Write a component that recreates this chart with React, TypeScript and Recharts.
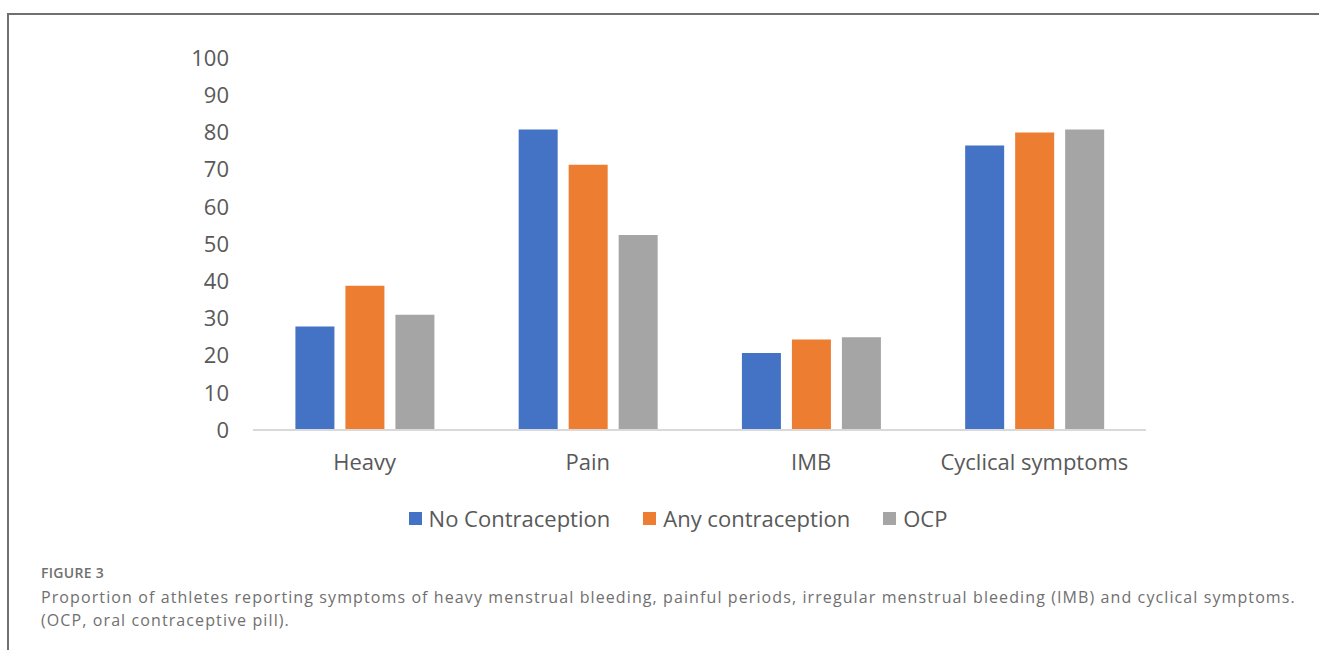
import { BarChart, Bar, XAxis, YAxis, Legend } from 'recharts';

const categories = ['Heavy', 'Pain', 'IMB', 'Cyclical symptoms'];
const noContraception = [27.8, 80.8, 20.7, 76.5];
const anyContraception = [38.8, 71.3, 24.3, 80.0];
const ocp = [31.0, 52.4, 24.9, 80.8];
const yTicks = [0, 10, 20, 30, 40, 50, 60, 70, 80, 90, 100];

const SERIES = [
  { key: 'noContraception', name: 'No Contraception', color: '#4472C4' },
  { key: 'anyContraception', name: 'Any contraception', color: '#ED7D31' },
  { key: 'ocp', name: 'OCP', color: '#A5A5A5' },
];

const data = categories.map((category, i) => ({
  category,
  noContraception: noContraception[i],
  anyContraception: anyContraception[i],
  ocp: ocp[i],
}));

const FONT = '"Open Sans", "Noto Sans", sans-serif';
const TEXT = '#595959';

// keep the series order (recharts sorts legend items by name otherwise)
function renderLegend() {
  return (
    <div style={{ display: 'flex', justifyContent: 'center', paddingLeft: 37, fontFamily: FONT, fontSize: 22, color: TEXT }}>
      {SERIES.map((s, idx) => (
        <div key={`leg-${idx}`} style={{ display: 'flex', alignItems: 'center', marginRight: idx < SERIES.length - 1 ? 33 : 0 }}>
          <span style={{ width: 13, height: 13, background: s.color, display: 'inline-block', marginRight: 7 }} />
          <span>{s.name}</span>
        </div>
      ))}
    </div>
  );
}

export default function App() {
  return (
    <div style={{ position: 'absolute', left: 0, top: 0, width: 1319, height: 653, background: '#fff', overflow: 'hidden' }}>
      {/* frame lines */}
      <div style={{ position: 'absolute', left: 7, top: 13, width: 1312, height: 2, background: '#707070' }} />
      <div style={{ position: 'absolute', left: 7, top: 13, width: 2, height: 637, background: '#707070' }} />

      <div style={{ position: 'absolute', left: 0, top: 0 }}>
        <BarChart
          width={1319}
          height={545}
          data={data}
          margin={{ top: 58, right: 173, left: 0, bottom: 0 }}
          barCategoryGap="19%"
          barGap={11}
        >
          <YAxis
            width={253}
            domain={[0, 100]}
            ticks={yTicks}
            axisLine={false}
            tickLine={false}
            tickSize={0}
            tickMargin={24}
            tick={{ fill: TEXT, fontSize: 22, fontFamily: FONT }}
          />
          <XAxis
            dataKey="category"
            height={85}
            axisLine={{ stroke: '#d9d9d9', strokeWidth: 2 }}
            tickLine={false}
            tickSize={0}
            tickMargin={24}
            tick={{ fill: TEXT, fontSize: 22, fontFamily: FONT }}
          />
          <Legend verticalAlign="bottom" content={renderLegend} wrapperStyle={{ left: 0, width: 1319, bottom: 12 }} />
          {SERIES.map((s) => (
            <Bar key={s.key} dataKey={s.key} name={s.name} fill={s.color} isAnimationActive={false} />
          ))}
        </BarChart>
      </div>

      <div style={{ position: 'absolute', left: 41, top: 563, fontFamily: FONT, color: '#707070' }}>
        <div style={{ fontSize: 14, fontWeight: 600, letterSpacing: 0.3 }}>FIGURE 3</div>
        <div style={{ fontSize: 16, lineHeight: '23px', letterSpacing: 1.1, marginTop: 4 }}>
          Proportion of athletes reporting symptoms of heavy menstrual bleeding, painful periods, irregular menstrual bleeding (IMB) and cyclical symptoms.
          <br />
          (OCP, oral contraceptive pill).
        </div>
      </div>
    </div>
  );
}
